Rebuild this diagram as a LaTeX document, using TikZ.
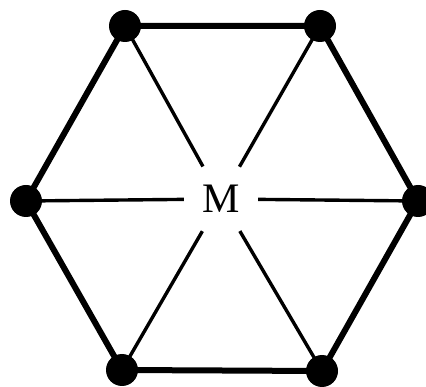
\documentclass[tikz,border=0pt]{standalone}
\usepackage{fontspec}
\setmainfont{Liberation Serif}
\begin{document}
\begin{tikzpicture}[x=1pt,y=-1pt,
  vtx/.style={circle,fill=black,inner sep=0pt,minimum size=32pt},
  rim/.style={line width=6pt},
  spoke/.style={line width=3.4pt},
  hub/.style={circle,inner sep=0pt,minimum size=74pt,font=\fontsize{42}{50}\selectfont}]
\useasboundingbox (0,0) rectangle (426,387);
\coordinate (A) at (125,26);
\coordinate (B) at (320,26);
\coordinate (C) at (418,201);
\coordinate (D) at (322,371);
\coordinate (E) at (122,370);
\coordinate (F) at (26,201);
\node[hub] (M) at (221,199) {M};
\draw[rim,line join=round] (A) -- (B) -- (C) -- (D) -- (E) -- (F) -- cycle;
\foreach \p in {A,B,C,D,E,F} \draw[spoke] (\p) -- (M);
\foreach \p in {A,B,C,D,E,F} \node[vtx] (v\p) at (\p) {};
\end{tikzpicture}
\end{document}
